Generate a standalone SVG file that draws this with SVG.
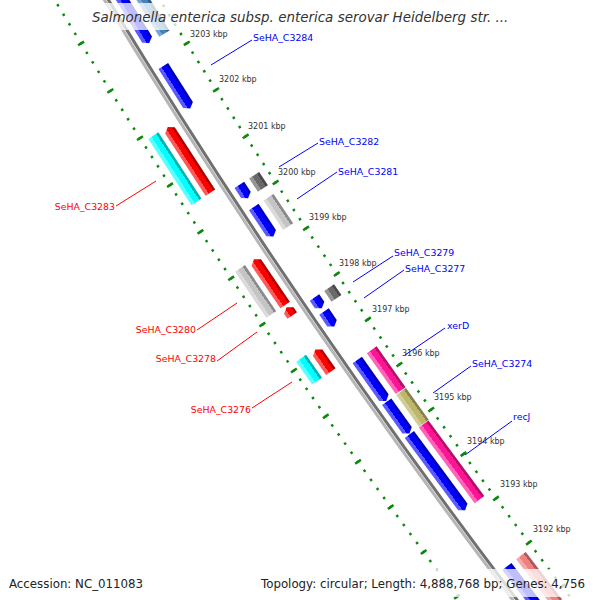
<svg xmlns="http://www.w3.org/2000/svg" width="600" height="600" viewBox="0 0 600 600">
<style>
.lbl{font-family:"DejaVu Sans",sans-serif;font-size:9.4px}
.fwd{fill:#ff0000}
.rev{fill:#0000ff}
.tick{font-family:"DejaVu Sans",sans-serif;font-size:8px;fill:#333}
.foot{font-family:"DejaVu Sans",sans-serif;font-size:11.8px;fill:#222}
.lr{stroke:#ff0000;stroke-width:1;fill:none}
.lb{stroke:#0000ff;stroke-width:1;fill:none}
</style>
<defs>
<linearGradient id="gBlue" x1="0" y1="0" x2="1" y2="0"><stop offset="0" stop-color="#0000b4"/><stop offset="0.22" stop-color="#0000b4"/><stop offset="0.22" stop-color="#0000ff"/><stop offset="0.68" stop-color="#0000ff"/><stop offset="0.68" stop-color="#5a5aff"/><stop offset="1" stop-color="#5a5aff"/></linearGradient>
<linearGradient id="gRed" x1="0" y1="0" x2="1" y2="0"><stop offset="0" stop-color="#b40000"/><stop offset="0.22" stop-color="#b40000"/><stop offset="0.22" stop-color="#ff0000"/><stop offset="0.68" stop-color="#ff0000"/><stop offset="0.68" stop-color="#ff5a5a"/><stop offset="1" stop-color="#ff5a5a"/></linearGradient>
<linearGradient id="gCyan" x1="0" y1="0" x2="1" y2="0"><stop offset="0" stop-color="#00b4b4"/><stop offset="0.22" stop-color="#00b4b4"/><stop offset="0.22" stop-color="#00ffff"/><stop offset="0.68" stop-color="#00ffff"/><stop offset="0.68" stop-color="#5affff"/><stop offset="1" stop-color="#5affff"/></linearGradient>
<linearGradient id="gDGrey" x1="0" y1="0" x2="1" y2="0"><stop offset="0" stop-color="#4a4a4a"/><stop offset="0.22" stop-color="#4a4a4a"/><stop offset="0.22" stop-color="#696969"/><stop offset="0.68" stop-color="#696969"/><stop offset="0.68" stop-color="#959595"/><stop offset="1" stop-color="#959595"/></linearGradient>
<linearGradient id="gLGrey" x1="0" y1="0" x2="1" y2="0"><stop offset="0" stop-color="#8a8a8a"/><stop offset="0.22" stop-color="#8a8a8a"/><stop offset="0.22" stop-color="#c4c4c4"/><stop offset="0.68" stop-color="#c4c4c4"/><stop offset="0.68" stop-color="#dadada"/><stop offset="1" stop-color="#dadada"/></linearGradient>
<linearGradient id="gPink" x1="0" y1="0" x2="1" y2="0"><stop offset="0" stop-color="#b4106a"/><stop offset="0.22" stop-color="#b4106a"/><stop offset="0.22" stop-color="#ff1493"/><stop offset="0.68" stop-color="#ff1493"/><stop offset="0.68" stop-color="#ff64b8"/><stop offset="1" stop-color="#ff64b8"/></linearGradient>
<linearGradient id="gOlive" x1="0" y1="0" x2="1" y2="0"><stop offset="0" stop-color="#868050"/><stop offset="0.22" stop-color="#868050"/><stop offset="0.22" stop-color="#bdb76b"/><stop offset="0.68" stop-color="#bdb76b"/><stop offset="0.68" stop-color="#d2cd98"/><stop offset="1" stop-color="#d2cd98"/></linearGradient>
<linearGradient id="gSteel" x1="0" y1="0" x2="1" y2="0"><stop offset="0" stop-color="#315c7f"/><stop offset="0.22" stop-color="#315c7f"/><stop offset="0.22" stop-color="#4682b4"/><stop offset="0.68" stop-color="#4682b4"/><stop offset="0.68" stop-color="#7aa6cc"/><stop offset="1" stop-color="#7aa6cc"/></linearGradient>
<linearGradient id="gSalmon" x1="0" y1="0" x2="1" y2="0"><stop offset="0" stop-color="#aa5a5a"/><stop offset="0.22" stop-color="#aa5a5a"/><stop offset="0.22" stop-color="#f08080"/><stop offset="0.68" stop-color="#f08080"/><stop offset="0.68" stop-color="#f6a8a8"/><stop offset="1" stop-color="#f6a8a8"/></linearGradient>
</defs>
<rect width="600" height="600" fill="#ffffff"/>

<g id="rings" transform="translate(6006 -3578)" fill="none">
<path d="M-6010.43 3477.62A6944 6944 0 0 0 -5481.27 4263.21" stroke="#0b8a0b" stroke-width="7" stroke-dasharray="2.5 53.2621" stroke-dashoffset="1.25"/>
<path d="M-6010.43 3477.62A6944 6944 0 0 0 -5481.27 4263.21" stroke="#0b8a0b" stroke-width="2.5" stroke-dasharray="2.5 8.6524" stroke-dashoffset="1.25"/>
<path d="M-5932.53 3432.55A6854 6854 0 0 0 -5410.23 4207.96" stroke="#0b8a0b" stroke-width="7" stroke-dasharray="2.5 52.5394" stroke-dashoffset="1.25"/>
<path d="M-5932.53 3432.55A6854 6854 0 0 0 -5410.23 4207.96" stroke="#0b8a0b" stroke-width="2.5" stroke-dasharray="2.5 8.5079" stroke-dashoffset="1.25"/>
</g>

<g id="backbone" transform="translate(6006 -3578)" fill="none">
<path d="M-5973.65 3456.34A6901.5 6901.5 0 0 0 -5447.73 4237.12" stroke="#b5b5b5" stroke-width="3"/>
<path d="M-5970.62 3454.59A6898 6898 0 0 0 -5444.96 4234.97" stroke="#707070" stroke-width="3"/>
</g>

<g id="ticklabels" class="tick">
<text x="190" y="37">3203 kbp</text>
<text x="219" y="82">3202 kbp</text>
<text x="248" y="129">3201 kbp</text>
<text x="278" y="175">3200 kbp</text>
<text x="309" y="220">3199 kbp</text>
<text x="339" y="266">3198 kbp</text>
<text x="372" y="312">3197 kbp</text>
<text x="402" y="356">3196 kbp</text>
<text x="434" y="400">3195 kbp</text>
<text x="467" y="444">3194 kbp</text>
<text x="500" y="487">3193 kbp</text>
<text x="533" y="532">3192 kbp</text>
</g>

<g id="connectors">
<path class="lb" d="M211 65L252 40"/>
<path class="lb" d="M279 167L318 143"/>
<path class="lb" d="M297 199L337 172"/>
<path class="lb" d="M353 282L393 256"/>
<path class="lb" d="M364 298L404 270"/>
<path class="lb" d="M405 355L445 328"/>
<path class="lb" d="M433 393L471 366"/>
<path class="lb" d="M465 455L512 421"/>
<path class="lr" d="M116 206L156 181"/>
<path class="lr" d="M197 330L237 303"/>
<path class="lr" d="M217 361L257 332"/>
<path class="lr" d="M252 408L292 382"/>
</g>

<g id="rev_1"><path transform="translate(6006 -3578) rotate(148.273)" d="M6880 4V87.55H6891.5V4L6885.75 0Z" fill="url(#gBlue)"/></g>
<g id="cog_1"><path transform="translate(6006 -3578) rotate(148.273)" d="M6862 0V87.55H6874V0Z" fill="url(#gSteel)"/></g>
<g id="SeHA_C3284"><path transform="translate(6006 -3578) rotate(147.631)" d="M6880 4V50.22H6891.5V4L6885.75 0Z" fill="url(#gBlue)"/><text class="lbl rev" x="253" y="41">SeHA_C3284</text></g>
<g id="SeHA_C3282"><path transform="translate(6006 -3578) rotate(146.742)" d="M6880 4V15.9H6891.5V4L6885.75 0Z" fill="url(#gBlue)"/><path transform="translate(6006 -3578) rotate(146.742)" d="M6862 0V15.9H6874V0Z" fill="url(#gDGrey)"/><text class="lbl rev" x="319" y="145">SeHA_C3282</text></g>
<g id="SeHA_C3281"><path transform="translate(6006 -3578) rotate(146.36)" d="M6880 4V35.41H6891.5V4L6885.75 0Z" fill="url(#gBlue)"/><path transform="translate(6006 -3578) rotate(146.36)" d="M6862 0V35.41H6874V0Z" fill="url(#gLGrey)"/><text class="lbl rev" x="338" y="175">SeHA_C3281</text></g>
<g id="SeHA_C3279"><path transform="translate(6006 -3578) rotate(145.639)" d="M6880 4V13.01H6891.5V4L6885.75 0Z" fill="url(#gBlue)"/><path transform="translate(6006 -3578) rotate(145.639)" d="M6862 0V13.01H6874V0Z" fill="url(#gDGrey)"/><text class="lbl rev" x="394" y="256">SeHA_C3279</text></g>
<g id="SeHA_C3277"><path transform="translate(6006 -3578) rotate(145.456)" d="M6880 4V18.06H6891.5V4L6885.75 0Z" fill="url(#gBlue)"/><text class="lbl rev" x="405" y="272">SeHA_C3277</text></g>
<g id="xerD"><path transform="translate(6006 -3578) rotate(144.701)" d="M6880 4V50.1H6891.5V4L6885.75 0Z" fill="url(#gBlue)"/><path transform="translate(6006 -3578) rotate(144.701)" d="M6862 0V50.1H6874V0Z" fill="url(#gPink)"/><text class="lbl rev" x="447" y="329">xerD</text></g>
<g id="SeHA_C3274"><path transform="translate(6006 -3578) rotate(144.368)" d="M6880 4V39.02H6891.5V4L6885.75 0Z" fill="url(#gBlue)"/><path transform="translate(6006 -3578) rotate(144.368)" d="M6862 0V39.02H6874V0Z" fill="url(#gOlive)"/><text class="lbl rev" x="472" y="367">SeHA_C3274</text></g>
<g id="recJ"><path transform="translate(6006 -3578) rotate(143.579)" d="M6880 4V94.06H6891.5V4L6885.75 0Z" fill="url(#gBlue)"/><path transform="translate(6006 -3578) rotate(143.579)" d="M6862 0V94.06H6874V0Z" fill="url(#gPink)"/><text class="lbl rev" x="513" y="420">recJ</text></g>
<g id="rev_10"><path transform="translate(6006 -3578) rotate(142.5)" d="M6880 4V59.61H6891.5V4L6885.75 0Z" fill="url(#gBlue)"/><path transform="translate(6006 -3578) rotate(142.5)" d="M6862 0V59.61H6874V0Z" fill="url(#gSalmon)"/></g>

<g id="SeHA_C3283"><path transform="translate(6006 -3578) rotate(146.952)" d="M6908.5 0V74.16L6914.25 78.16L6920 74.16V0Z" fill="url(#gRed)"/><path transform="translate(6006 -3578) rotate(146.951)" d="M6925 0V79H6937V0Z" fill="url(#gCyan)"/><text class="lbl fwd" x="115" y="210" text-anchor="end">SeHA_C3283</text></g>
<g id="SeHA_C3280"><path transform="translate(6006 -3578) rotate(145.833)" d="M6908.5 0V51.4L6914.25 55.4L6920 51.4V0Z" fill="url(#gRed)"/><path transform="translate(6006 -3578) rotate(145.833)" d="M6925 0V55.6H6937V0Z" fill="url(#gLGrey)"/><text class="lbl fwd" x="196" y="333" text-anchor="end">SeHA_C3280</text></g>
<g id="SeHA_C3278"><path transform="translate(6006 -3578) rotate(145.728)" d="M6908.5 0V6.12L6914.25 10.12L6920 6.12V0Z" fill="url(#gRed)"/><text class="lbl fwd" x="216" y="362" text-anchor="end">SeHA_C3278</text></g>
<g id="SeHA_C3276"><path transform="translate(6006 -3578) rotate(145.164)" d="M6908.5 0V23.1L6914.25 27.1L6920 23.1V0Z" fill="url(#gRed)"/><path transform="translate(6006 -3578) rotate(145.164)" d="M6925 0V28H6937V0Z" fill="url(#gCyan)"/><text class="lbl fwd" x="251" y="413" text-anchor="end">SeHA_C3276</text></g>

<g id="title">
<rect x="88" y="3" width="424" height="27" fill="#ffffff" fill-opacity="0.75"/>
<text x="92" y="22" font-family="DejaVu Sans, sans-serif" font-size="13.45" font-style="italic" fill="#333">Salmonella enterica subsp. enterica serovar Heidelberg str. ...</text>
</g>
<g id="footer">
<rect x="4" y="569" width="142" height="28" fill="#ffffff" fill-opacity="0.75"/>
<rect x="256" y="569" width="339" height="28" fill="#ffffff" fill-opacity="0.75"/>
<text class="foot" x="9" y="588">Accession: NC_011083</text>
<text class="foot" x="261" y="588">Topology: circular; Length: 4,888,768 bp; Genes: 4,756</text>
</g>
</svg>
